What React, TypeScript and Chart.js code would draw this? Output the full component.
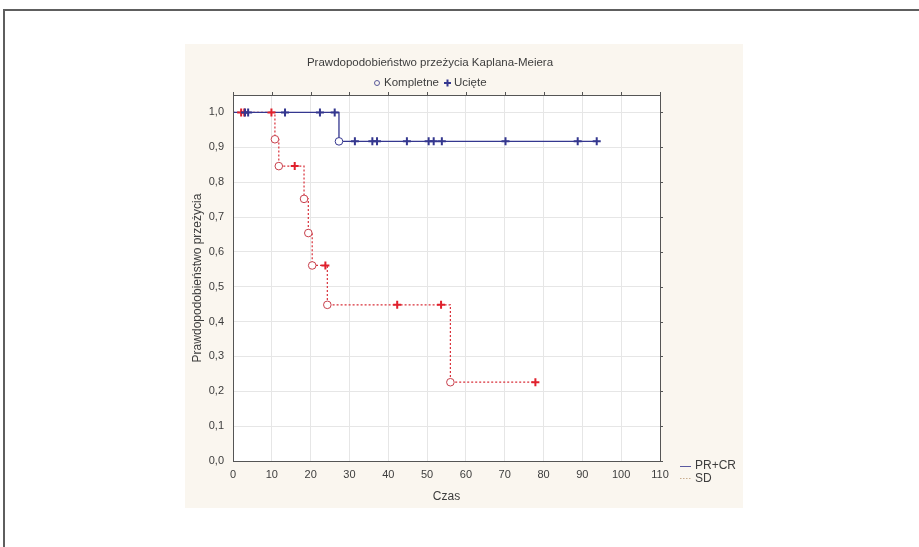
import { useEffect, useRef } from "react";
import { Chart, registerables } from "chart.js";

Chart.register(...registerables);

// ---- data ----
const chartTitle = "Prawdopodobieństwo przeżycia Kaplana-Meiera";
const markerNames = ["Kompletne", "Ucięte"];
const seriesNames = ["PR+CR", "SD"];
const xAxisTitle = "Czas";
const yAxisTitle = "Prawdopodobieństwo przeżycia";

const xTicks = [0, 10, 20, 30, 40, 50, 60, 70, 80, 90, 100, 110];
const yTicks = [0, 0.1, 0.2, 0.3, 0.4, 0.5, 0.6, 0.7, 0.8, 0.9, 1.0];

// PR+CR
const prcrStepTime = [0, 27.3, 93.7];
const prcrStepSurv = [1.0, 0.917, 0.917];
const prcrEventTime = [27.3];
const prcrEventSurv = [0.917];
const prcrCensorTime = [3.1, 3.9, 13.4, 22.4, 26.2, 31.4, 35.9, 37.1, 44.8, 50.4, 51.7, 53.8, 70.2, 88.8, 93.7];
const prcrCensorSurv = [1, 1, 1, 1, 1, 0.917, 0.917, 0.917, 0.917, 0.917, 0.917, 0.917, 0.917, 0.917, 0.917];

// SD
const sdStepTime = [0, 10.8, 11.8, 18.3, 19.4, 20.4, 24.3, 56.0, 77.9];
const sdStepSurv = [1.0, 0.923, 0.846, 0.752, 0.654, 0.561, 0.448, 0.226, 0.226];
const sdEventTime = [10.8, 11.8, 18.3, 19.4, 20.4, 24.3, 56.0];
const sdEventSurv = [0.923, 0.846, 0.752, 0.654, 0.561, 0.448, 0.226];
const sdCensorTime = [2.1, 2.9, 9.9, 15.9, 23.8, 42.3, 53.6, 77.9];
const sdCensorSurv = [1, 1, 1, 0.846, 0.561, 0.448, 0.448, 0.226];

const BLUE = "#34378f";
const RED = "#d9303a";
const TEXT = "#3d3d3d";
const FONT = "'Liberation Sans', Arial, sans-serif";

const pts = (xs: number[], ys: number[]) => xs.map((x, i) => ({ x, y: ys[i] }));
const fmt = (v: number) => v.toFixed(1).replace(".", ",");

export default function App() {
  const ref = useRef<HTMLCanvasElement | null>(null);

  useEffect(() => {
    const canvas = ref.current;
    if (!canvas) return;

    const decor = {
      id: "decor",
      beforeDraw(chart: any) {
        const { ctx, chartArea: a, width, height } = chart;
        ctx.save();
        ctx.fillStyle = "#ffffff";
        ctx.fillRect(0, 0, width, height);
        ctx.fillStyle = "#faf6ef";
        ctx.fillRect(185, 44, 558, 464);
        ctx.fillStyle = "#ffffff";
        ctx.fillRect(a.left, a.top, a.right - a.left, a.bottom - a.top);
        ctx.strokeStyle = "#5e5e5e";
        ctx.lineWidth = 2;
        ctx.beginPath();
        ctx.moveTo(4, height);
        ctx.lineTo(4, 10);
        ctx.lineTo(width, 10);
        ctx.stroke();
        ctx.restore();
      },
      afterDraw(chart: any) {
        const { ctx, chartArea: a } = chart;
        const xs = chart.scales.x;
        const ys = chart.scales.y;
        ctx.save();
        // frame
        ctx.strokeStyle = "#555555";
        ctx.lineWidth = 1;
        ctx.strokeRect(Math.round(a.left) + 0.5, Math.round(a.top) + 0.5, Math.round(a.right - a.left), Math.round(a.bottom - a.top));
        // outer ticks on top and right
        ctx.beginPath();
        xTicks.forEach((t) => {
          const px = Math.round(xs.getPixelForValue(t)) + 0.5;
          ctx.moveTo(px, a.top);
          ctx.lineTo(px, a.top - 3);
        });
        yTicks.forEach((t) => {
          const py = Math.round(ys.getPixelForValue(t)) + 0.5;
          ctx.moveTo(a.right, py);
          ctx.lineTo(a.right + 3, py);
        });
        ctx.stroke();

        // title
        ctx.fillStyle = TEXT;
        ctx.font = `11.5px ${FONT}`;
        ctx.textAlign = "center";
        ctx.textBaseline = "middle";
        ctx.fillText(chartTitle, 430, 63);

        // marker legend
        ctx.textAlign = "left";
        ctx.strokeStyle = "#5a5a9a";
        ctx.lineWidth = 1;
        ctx.beginPath();
        ctx.arc(377, 83, 2.5, 0, Math.PI * 2);
        ctx.stroke();
        ctx.fillText(markerNames[0], 384, 83);
        ctx.strokeStyle = BLUE;
        ctx.lineWidth = 2;
        ctx.beginPath();
        ctx.moveTo(444, 83);
        ctx.lineTo(451, 83);
        ctx.moveTo(447.5, 79.5);
        ctx.lineTo(447.5, 86.5);
        ctx.stroke();
        ctx.fillText(markerNames[1], 454, 83);

        // series legend bottom-right
        ctx.strokeStyle = "#5a5aa0";
        ctx.lineWidth = 1;
        ctx.beginPath();
        ctx.moveTo(680, 466.5);
        ctx.lineTo(691, 466.5);
        ctx.stroke();
        ctx.strokeStyle = "#c9ad8e";
        ctx.setLineDash([1.5, 1.5]);
        ctx.beginPath();
        ctx.moveTo(680, 478.5);
        ctx.lineTo(691, 478.5);
        ctx.stroke();
        ctx.setLineDash([]);
        ctx.fillStyle = TEXT;
        ctx.font = `12px ${FONT}`;
        ctx.fillText(seriesNames[0], 695, 466);
        ctx.fillText(seriesNames[1], 695, 479);
        ctx.restore();
      },
    };

    const chart = new Chart(canvas, {
      type: "scatter",
      data: {
        datasets: [
          {
            label: seriesNames[0],
            data: pts(prcrStepTime, prcrStepSurv),
            showLine: true,
            stepped: "before",
            borderColor: BLUE,
            borderWidth: 1.3,
            pointRadius: 0,
            order: 2,
          },
          {
            label: seriesNames[1],
            data: pts(sdStepTime, sdStepSurv),
            showLine: true,
            stepped: "before",
            borderColor: RED,
            borderWidth: 1.2,
            borderDash: [2, 2],
            pointRadius: 0,
            order: 2,
          },
          {
            label: seriesNames[0] + " " + markerNames[0],
            data: pts(prcrEventTime, prcrEventSurv),
            pointStyle: "circle",
            pointRadius: 3.8,
            borderColor: BLUE,
            backgroundColor: "#ffffff",
            pointBorderWidth: 1,
            order: 1,
          },
          {
            label: seriesNames[1] + " " + markerNames[0],
            data: pts(sdEventTime, sdEventSurv),
            pointStyle: "circle",
            pointRadius: 3.8,
            borderColor: "#c8404c",
            backgroundColor: "#ffffff",
            pointBorderWidth: 1,
            order: 1,
          },
          {
            label: seriesNames[0] + " " + markerNames[1],
            data: pts(prcrCensorTime, prcrCensorSurv),
            pointStyle: "cross",
            pointRadius: 4,
            borderColor: BLUE,
            pointBorderWidth: 2,
            order: 0,
          },
          {
            label: seriesNames[1] + " " + markerNames[1],
            data: pts(sdCensorTime, sdCensorSurv),
            pointStyle: "cross",
            pointRadius: 4,
            borderColor: "#e0202c",
            pointBorderWidth: 2,
            order: 0,
          },
        ],
      },
      options: {
        animation: false,
        responsive: false,
        maintainAspectRatio: false,
        events: [],
        layout: { padding: { left: 185, right: 259, top: 95, bottom: 39 } },
        plugins: {
          legend: { display: false },
          title: { display: false },
          tooltip: { enabled: false },
        },
        scales: {
          x: {
            type: "linear",
            min: 0,
            max: 110,
            afterFit: (s: any) => {
              s.height = 47;
            },
            afterBuildTicks: (s: any) => {
              s.ticks = xTicks.map((v) => ({ value: v }));
            },
            ticks: {
              color: TEXT,
              font: { family: FONT, size: 11 },
              padding: 7,
              maxRotation: 0,
              autoSkip: false,
            },
            grid: { color: "#e6e6e6", drawTicks: false },
            border: { display: false },
            title: {
              display: true,
              text: xAxisTitle,
              color: TEXT,
              font: { family: FONT, size: 12 },
              padding: { top: 2, bottom: 4 },
            },
          },
          y: {
            type: "linear",
            min: 0,
            max: 1.05,
            afterFit: (s: any) => {
              s.width = 48;
            },
            afterBuildTicks: (s: any) => {
              s.ticks = yTicks.map((v) => ({ value: v }));
            },
            ticks: {
              color: TEXT,
              font: { family: FONT, size: 11 },
              padding: 9,
              autoSkip: false,
              callback: (v: any) => fmt(Number(v)),
            },
            grid: { color: "#e6e6e6", drawTicks: false },
            border: { display: false },
            title: {
              display: true,
              text: yAxisTitle,
              color: TEXT,
              font: { family: FONT, size: 12 },
              padding: { top: 5, bottom: 2 },
            },
          },
        },
      },
      plugins: [decor],
    } as any);

    return () => chart.destroy();
  }, []);

  return (
    <div style={{ position: "fixed", left: 0, top: 0, width: 919, height: 547 }}>
      <canvas ref={ref} width={919} height={547} style={{ display: "block", width: 919, height: 547 }} />
    </div>
  );
}
